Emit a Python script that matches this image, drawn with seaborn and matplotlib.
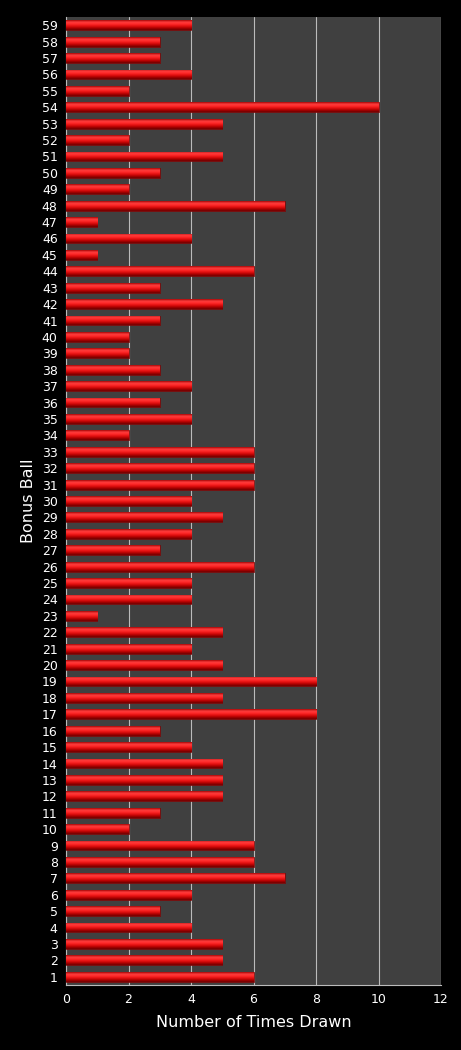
import numpy as np
import pandas as pd
import seaborn as sns
import matplotlib.pyplot as plt
from matplotlib.colors import LinearSegmentedColormap

balls = [str(b) for b in range(59, 0, -1)]
times = [4, 3, 3, 4, 2, 10, 5, 2, 5, 3, 2, 7, 1, 4, 1, 6, 3, 5, 3, 2,
         2, 3, 4, 3, 4, 2, 6, 6, 6, 4, 5, 4, 3, 6, 4, 4, 1, 5, 4, 5,
         8, 5, 8, 3, 4, 5, 5, 5, 3, 2, 6, 6, 7, 4, 3, 4, 5, 5, 6]

df = pd.DataFrame({'ball': balls, 'times': times})

sns.set_style('dark')
plt.rcParams['font.family'] = ['DejaVu Sans']

fig = plt.figure(figsize=(4.61, 10.5), dpi=100, facecolor='black')
ax = fig.add_axes([66 / 461, 1 - 985 / 1050, 375 / 461, 968 / 1050])
ax.set_facecolor('#404040')

sns.barplot(data=df, x='times', y='ball', order=balls, orient='h',
            color='#e01818', width=0.6, ax=ax, zorder=3)

# cylinder shading, top of bar first
cmap = LinearSegmentedColormap.from_list(
    'cyl', ['#a00000', '#ff4040', '#ff2a2a', '#e41010', '#b00000', '#6a0000'])
grad = np.linspace(0, 1, 64).reshape(-1, 1)
for p in ax.patches:
    x0, y0 = p.get_x(), p.get_y()
    w, h = p.get_width(), p.get_height()
    im = ax.imshow(grad, cmap=cmap, aspect='auto', zorder=4, origin='upper',
                   extent=[x0, x0 + w, y0 + h, y0], interpolation='bicubic')
    im.set_clip_path(p)
    p.set_edgecolor('#700000')
    p.set_linewidth(0.5)

ax.set_xlim(0, 12)
ax.set_ylim(len(balls) - 0.5, -0.5)
ax.set_xticks(range(0, 13, 2))
ax.grid(axis='x', color='#bbbbbb', linewidth=0.8, zorder=1)
ax.grid(axis='y', visible=False)
ax.set_axisbelow(True)

for s in ['top', 'right']:
    ax.spines[s].set_visible(False)
ax.spines['left'].set_color('#bbbbbb')
ax.spines['bottom'].set_color('#bbbbbb')
ax.spines['left'].set_linewidth(0.8)
ax.spines['bottom'].set_linewidth(0.8)

ax.tick_params(colors='white', labelsize=9, length=0, pad=6)
ax.set_xlabel('Number of Times Drawn', color='white', fontsize=11.5, labelpad=6)
ax.set_ylabel('Bonus Ball', color='white', fontsize=11.5, labelpad=4)

fig.savefig('out.png', dpi=100, facecolor='black')
